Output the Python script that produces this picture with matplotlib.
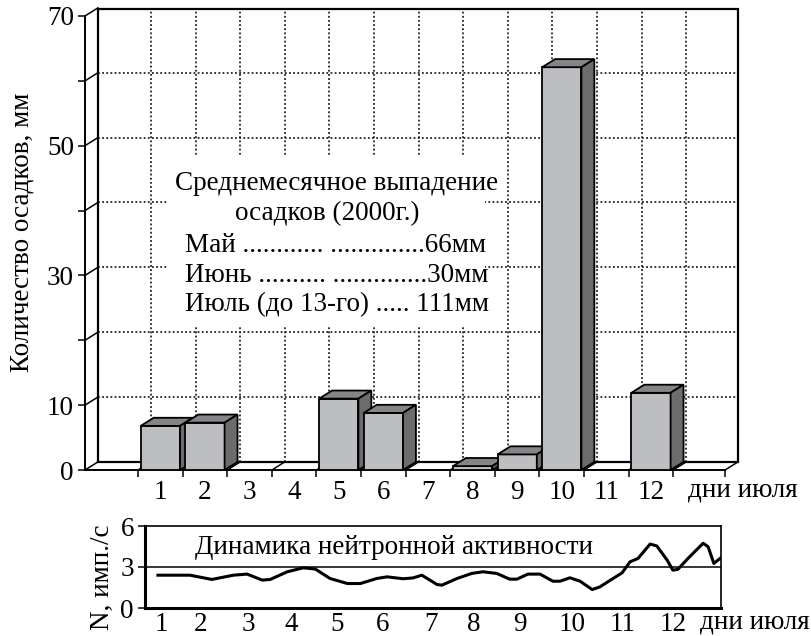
import matplotlib
matplotlib.use("Agg")
import matplotlib.pyplot as plt
from matplotlib.patches import Rectangle, Polygon

plt.rcParams['font.family'] = ['Liberation Serif', 'DejaVu Serif']

# days of july and daily rainfall, mm
days = [1, 2, 3, 4, 5, 6, 7, 8, 9, 10, 11, 12]
rain = [6.8, 7.3, 0, 0, 11.0, 8.8, 0, 0.6, 2.4, 62.1, 0, 11.9]
rain_ticks = [0, 10, 20, 30, 40, 50, 60, 70]
rain_labels = ['0', '10', '', '30', '', '50', '', '70']

# monthly totals shown in the note
note_lines = ['Май ............ ..............66мм',
              'Июнь .......... ..............30мм',
              'Июль (до 13-го) ..... 111мм']

# neutron activity, time in days, counts per second
neutron_t = [0.94, 1.66, 2.15, 2.63, 2.94, 3.28, 3.46, 3.84, 4.20, 4.47,
             4.80, 5.19, 5.48, 5.85, 6.08, 6.44, 6.66, 6.86, 7.20, 7.31,
             7.65, 7.98, 8.23, 8.54, 8.83, 8.99, 9.24, 9.51, 9.80, 9.96,
             10.18, 10.41, 10.68, 10.85, 11.15, 11.35, 11.53, 11.71, 11.98, 12.13,
             12.36, 12.49, 12.60, 12.83, 13.17, 13.28, 13.41, 13.55]
neutron_n = [2.40, 2.40, 2.09, 2.40, 2.48, 2.04, 2.09, 2.65, 2.94, 2.85,
             2.16, 1.79, 1.79, 2.16, 2.28, 2.14, 2.20, 2.40, 1.72, 1.67,
             2.16, 2.53, 2.65, 2.53, 2.11, 2.11, 2.48, 2.48, 1.96, 1.96,
             2.21, 1.96, 1.35, 1.54, 2.16, 2.57, 3.38, 3.63, 4.68, 4.54,
             3.51, 2.77, 2.82, 3.63, 4.74, 4.49, 3.26, 3.63]
neutron_ticks = [0, 3, 6]
day_tick_pos = [1.01, 1.89, 2.96, 3.93, 4.96, 5.99, 7.06, 8.02, 9.06, 10.22, 11.36, 12.49]

FS = 19.5
# 3d depth of the bar chart in data units
DX, DY = 0.29, 1.25
front_col = '#bdbec2'
top_col = '#858585'
side_col = '#6c6c6c'


def draw_bar(ax, x, h, w=0.88):
    # front, top and side faces of one bar
    left, right = x - w / 2, x + w / 2
    ax.add_patch(Rectangle((left, 0), w, h, facecolor=front_col,
                           edgecolor='black', lw=1.3, zorder=3))
    ax.add_patch(Polygon([(left, h), (right, h), (right + DX, h + DY), (left + DX, h + DY)],
                         facecolor=top_col, edgecolor='black', lw=1.3, zorder=3))
    ax.add_patch(Polygon([(right, 0), (right + DX, DY), (right + DX, h + DY), (right, h)],
                         facecolor=side_col, edgecolor='black', lw=1.3, zorder=3))


fig = plt.figure(figsize=(8.12, 6.36), dpi=100)

# ---- rainfall chart ----
ax = fig.add_axes([85 / 812, 166 / 636, 653 / 812, 461 / 636])
x0 = -0.69
x1 = x0 + 653 / 44.6
y1 = 461 / 6.486
xf = x1 - DX
ax.set_xlim(x0, x1)
ax.set_ylim(0, y1)

for s in ['top', 'right']:
    ax.spines[s].set_visible(False)
ax.spines['left'].set_bounds(0, 70)
ax.spines['bottom'].set_bounds(x0, xf)
ax.spines['left'].set_linewidth(1.4)
ax.spines['bottom'].set_linewidth(1.4)

# back wall
ax.add_patch(Rectangle((x0 + DX, DY), x1 - x0 - DX, y1 - DY, fill=False,
                       edgecolor='black', lw=1.6, clip_on=False, zorder=2))
bounds = [d + 0.5 for d in [0] + days]
dots = (0, (1, 1.3))
for v in rain_ticks[1:-1]:
    ax.plot([x0 + DX, x1], [v + DY, v + DY], color='#222222', lw=1.3, ls=dots, zorder=1)
for b in bounds:
    ax.plot([b + DX, b + DX], [DY, y1], color='#222222', lw=1.3, ls=dots, zorder=1)

# slanted ticks on the wall and floor
for v in rain_ticks:
    ax.plot([x0, x0 + DX], [v, v + DY], color='black', lw=1.1, clip_on=False, zorder=2)
for b in bounds + [xf]:
    ax.plot([b, b + DX], [0, DY], color='black', lw=1.1, clip_on=False, zorder=2)

# white box under the note
ax.add_patch(Rectangle((0.127, 0.315), 0.486, 0.368, transform=ax.transAxes,
                       facecolor='white', edgecolor='none', zorder=2))

for d, h in zip(days, rain):
    if h > 0:
        draw_bar(ax, d, h)

ax.set_yticks(rain_ticks, rain_labels)
ax.set_xticks(days, [str(d) for d in days])
ax.set_xticks(bounds + [xf], minor=True)
ax.tick_params(axis='y', length=5, width=1.1, pad=3, labelsize=FS)
ax.tick_params(axis='x', which='major', length=0, pad=7, labelsize=FS)
ax.tick_params(axis='x', which='minor', length=5, width=1.1, direction='out')

fig.text(22 / 812, 1 - 232 / 636, 'Количество осадков, мм', rotation=90,
         ha='center', va='center', fontsize=FS)
fig.text(743 / 812, 1 - 490 / 636, 'дни июля', ha='center', va='center', fontsize=FS)

# note with monthly sums
fig.text(337 / 812, 1 - 183 / 636, 'Среднемесячное выпадение', ha='center', va='center', fontsize=FS)
fig.text(327 / 812, 1 - 214 / 636, 'осадков (2000г.)', ha='center', va='center', fontsize=FS)
for i, line in enumerate(note_lines):
    fig.text(185 / 812, 1 - (245 + 30 * i) / 636, line, ha='left', va='center', fontsize=FS)

# ---- neutron activity ----
bx = fig.add_axes([145 / 812, 28 / 636, 576 / 812, 82 / 636])
bx.plot(neutron_t, neutron_n, color='black', lw=2.2)
bx.axhline(3, color='black', lw=1.1)
bx.set_xlim(0.65, 13.57)
bx.set_ylim(0, 6)
bx.set_yticks(neutron_ticks)
bx.set_xticks(day_tick_pos, [str(d) for d in days])
bx.tick_params(axis='y', length=5, width=1.1, pad=3, labelsize=FS)
bx.tick_params(axis='x', length=0, pad=3, labelsize=FS)
bx.spines['left'].set_linewidth(2.2)
bx.spines['bottom'].set_linewidth(2.2)
bx.spines['top'].set_linewidth(1.2)
bx.spines['right'].set_linewidth(1.2)
bx.text(394 / 812, 1 - 547 / 636, 'Динамика нейтронной активности', transform=fig.transFigure,
        ha='center', va='center', fontsize=FS)
fig.text(102 / 812, 1 - 577 / 636, 'N, имп./с', rotation=90, ha='center', va='center', fontsize=FS)
fig.text(755 / 812, 1 - 622 / 636, 'дни июля', ha='center', va='center', fontsize=FS)

fig.savefig('out.png', dpi=100)
